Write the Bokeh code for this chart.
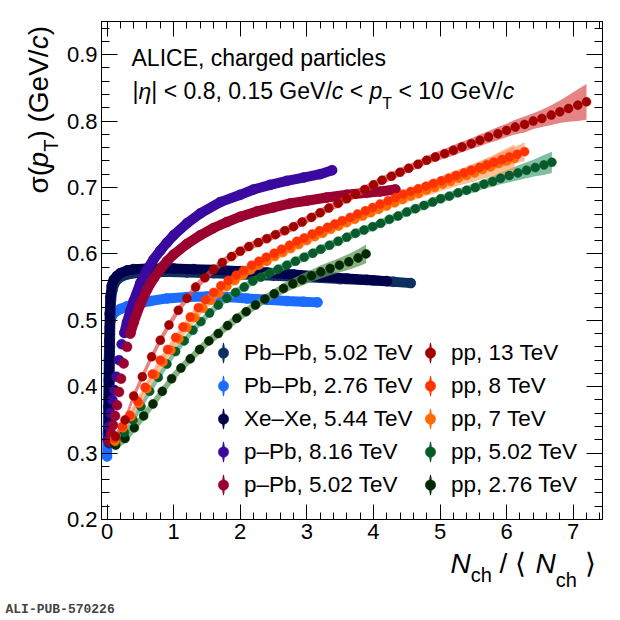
import numpy as np
from bokeh.plotting import figure
from bokeh.layouts import row, column
from bokeh.models import (Range1d, LinearAxis, FixedTicker, Label, Legend,
                          LegendItem, ColumnDataSource)
from bokeh.embed import file_html
from bokeh.resources import INLINE

# ---------------- data ----------------
x_ticks = [0, 1, 2, 3, 4, 5, 6, 7]
y_ticks = [0.2, 0.3, 0.4, 0.5, 0.6, 0.7, 0.8, 0.9]

# Pb-Pb 5.02 TeV
pbpb502_x = [0.03, 0.035, 0.04, 0.045, 0.05, 0.06, 0.08, 0.11, 0.15, 0.20, 0.30, 0.50, 0.80, 1.20,
             1.60, 2.00, 2.50, 3.00, 3.50, 4.00, 4.30, 4.56]
pbpb502_y = [0.315, 0.36, 0.41, 0.46, 0.50, 0.53, 0.545, 0.555, 0.561, 0.565, 0.569, 0.572, 0.573, 0.572,
             0.571, 0.569, 0.567, 0.565, 0.562, 0.560, 0.558, 0.556]
# Pb-Pb 2.76 TeV
pbpb276_x = [0.00, 0.01, 0.015, 0.02, 0.025, 0.03, 0.04, 0.06, 0.09, 0.13, 0.20, 0.30, 0.45, 0.65,
             0.90, 1.20, 1.50, 1.80, 2.10, 2.40, 2.70, 2.95, 3.16]
pbpb276_y = [0.295, 0.33, 0.37, 0.41, 0.44, 0.465, 0.49, 0.503, 0.510, 0.513, 0.517, 0.521, 0.525, 0.529,
             0.533, 0.535, 0.536, 0.535, 0.533, 0.531, 0.529, 0.528, 0.527]
# Xe-Xe 5.44 TeV
xexe_x = [0.02, 0.025, 0.03, 0.035, 0.04, 0.05, 0.07, 0.10, 0.15, 0.20, 0.30, 0.40, 0.60, 0.80,
          1.00, 1.30, 1.60, 2.00, 2.40, 2.80, 3.20, 3.60, 3.90, 4.20]
xexe_y = [0.32, 0.37, 0.42, 0.47, 0.51, 0.535, 0.552, 0.561, 0.567, 0.571, 0.575, 0.577, 0.578, 0.578,
          0.578, 0.577, 0.576, 0.574, 0.572, 0.569, 0.566, 0.563, 0.561, 0.559]
# p-Pb 8.16 TeV
ppb816_x = [0.01, 0.03, 0.05, 0.08, 0.11, 0.14, 0.18, 0.22, 0.26, 0.30, 0.35, 0.40, 0.50, 0.60,
            0.70, 0.80, 0.90, 1.00, 1.20, 1.40, 1.70, 2.00, 2.20, 2.45, 2.70, 2.95, 3.20, 3.38]
ppb816_y = [0.32, 0.34, 0.36, 0.38, 0.395, 0.415, 0.44, 0.464, 0.481, 0.497, 0.514, 0.529, 0.556, 0.576,
            0.592, 0.605, 0.617, 0.628, 0.646, 0.661, 0.678, 0.689, 0.697, 0.704, 0.710, 0.715, 0.720, 0.726]
# p-Pb 5.02 TeV
ppb502_x = [0.03, 0.06, 0.09, 0.12, 0.15, 0.18, 0.21, 0.25, 0.30, 0.35, 0.40, 0.50, 0.60, 0.70,
            0.80, 0.90, 1.00, 1.20, 1.40, 1.60, 1.80, 2.00, 2.25, 2.50, 2.75, 3.00, 3.30, 3.60,
            3.90, 4.10, 4.33]
ppb502_y = [0.318, 0.330, 0.342, 0.356, 0.372, 0.392, 0.412, 0.435, 0.460, 0.480, 0.497, 0.524, 0.546, 0.563,
            0.577, 0.589, 0.599, 0.615, 0.628, 0.639, 0.648, 0.656, 0.664, 0.670, 0.676, 0.680, 0.685, 0.689,
            0.692, 0.694, 0.697]

# pp 13 TeV
pp13_x = [0.13, 0.27, 0.40, 0.53, 0.67, 0.80, 0.93, 1.07, 1.20, 1.33, 1.47, 1.60, 1.73, 1.87,
          2.00, 2.13, 2.27, 2.40, 2.53, 2.67, 2.80, 2.93, 3.07, 3.20, 3.33, 3.47, 3.60, 3.73,
          3.87, 4.00, 4.13, 4.27, 4.40, 4.53, 4.67, 4.80, 4.93, 5.07, 5.20, 5.33, 5.47, 5.60,
          5.73, 5.87, 6.00, 6.13, 6.27, 6.40, 6.53, 6.67, 6.80, 6.93, 7.07, 7.20]
pp13_y = [0.325, 0.350, 0.386, 0.415, 0.445, 0.470, 0.493, 0.515, 0.533, 0.550, 0.564, 0.576, 0.587, 0.596,
          0.604, 0.611, 0.617, 0.623, 0.629, 0.635, 0.641, 0.648, 0.655, 0.662, 0.669, 0.676, 0.683, 0.690,
          0.697, 0.704, 0.711, 0.717, 0.723, 0.729, 0.735, 0.741, 0.746, 0.751, 0.756, 0.761, 0.766, 0.771,
          0.776, 0.781, 0.786, 0.791, 0.795, 0.800, 0.804, 0.809, 0.814, 0.819, 0.824, 0.829]
pp13_sys = [0.006] * 36 + [0.007, 0.007, 0.008, 0.008, 0.008, 0.009, 0.009, 0.010, 0.010, 0.011, 0.012,
                           0.012, 0.013, 0.015, 0.017, 0.020, 0.024, 0.027]
# pp 8 TeV
pp8_x = [0.11, 0.23, 0.34, 0.46, 0.57, 0.68, 0.80, 0.91, 1.03, 1.14, 1.25, 1.37, 1.48, 1.60,
         1.71, 1.82, 1.94, 2.05, 2.17, 2.28, 2.39, 2.51, 2.62, 2.74, 2.85, 2.96, 3.08, 3.19,
         3.31, 3.42, 3.53, 3.65, 3.76, 3.88, 3.99, 4.10, 4.22, 4.33, 4.45, 4.56, 4.67, 4.79,
         4.90, 5.02, 5.13, 5.24, 5.36, 5.47, 5.59, 5.70, 5.81, 5.93, 6.04, 6.16, 6.27]
pp8_y = [0.322, 0.340, 0.357, 0.378, 0.399, 0.419, 0.440, 0.456, 0.474, 0.490, 0.505, 0.519, 0.531, 0.542,
         0.552, 0.560, 0.568, 0.575, 0.583, 0.589, 0.595, 0.601, 0.607, 0.613, 0.619, 0.624, 0.630, 0.635,
         0.640, 0.645, 0.650, 0.655, 0.660, 0.665, 0.670, 0.675, 0.680, 0.685, 0.690, 0.694, 0.698, 0.702,
         0.706, 0.710, 0.714, 0.718, 0.722, 0.726, 0.730, 0.734, 0.738, 0.742, 0.746, 0.750, 0.754]
pp8_sys = [0.005] * 40 + [0.006, 0.006, 0.007, 0.007, 0.008, 0.008, 0.008, 0.009, 0.009, 0.010, 0.010,
                          0.011, 0.012, 0.013, 0.014]
# pp 7 TeV
pp7_x = [0.12, 0.24, 0.36, 0.48, 0.60, 0.72, 0.84, 0.96, 1.08, 1.20, 1.32, 1.44, 1.56, 1.68,
         1.80, 1.92, 2.04, 2.16, 2.28, 2.40, 2.52, 2.64, 2.76, 2.88, 3.00, 3.12, 3.24, 3.36,
         3.48, 3.60, 3.72, 3.84, 3.96, 4.08, 4.20, 4.32, 4.44, 4.56, 4.68, 4.80, 4.92, 5.04,
         5.16, 5.28, 5.40, 5.52, 5.64, 5.76, 5.88, 6.00, 6.12]
pp7_y = [0.318, 0.338, 0.355, 0.375, 0.397, 0.418, 0.437, 0.455, 0.472, 0.489, 0.504, 0.518, 0.530, 0.541,
         0.551, 0.560, 0.568, 0.576, 0.583, 0.589, 0.596, 0.602, 0.608, 0.614, 0.620, 0.626, 0.631, 0.637,
         0.642, 0.647, 0.652, 0.657, 0.662, 0.667, 0.672, 0.677, 0.682, 0.687, 0.691, 0.696, 0.700, 0.705,
         0.709, 0.714, 0.718, 0.722, 0.727, 0.731, 0.736, 0.740, 0.744]
pp7_sys = [0.006] * 36 + [0.007, 0.007, 0.008, 0.008, 0.009, 0.009, 0.010, 0.011, 0.012, 0.013, 0.014,
                          0.015, 0.017, 0.019, 0.021]
# pp 5.02 TeV
pp502_x = [0.13, 0.26, 0.39, 0.51, 0.64, 0.77, 0.90, 1.03, 1.16, 1.29, 1.41, 1.54, 1.67, 1.80,
           1.93, 2.06, 2.19, 2.31, 2.44, 2.57, 2.70, 2.83, 2.96, 3.09, 3.21, 3.34, 3.47, 3.60,
           3.73, 3.86, 3.99, 4.11, 4.24, 4.37, 4.50, 4.63, 4.76, 4.89, 5.01, 5.14, 5.27, 5.40,
           5.53, 5.66, 5.79, 5.91, 6.04, 6.17, 6.30, 6.43, 6.56, 6.68]
pp502_y = [0.317, 0.331, 0.350, 0.370, 0.393, 0.414, 0.434, 0.453, 0.469, 0.485, 0.498, 0.511, 0.523, 0.533,
           0.542, 0.550, 0.559, 0.565, 0.571, 0.577, 0.583, 0.589, 0.595, 0.601, 0.607, 0.613, 0.619, 0.625,
           0.631, 0.636, 0.641, 0.646, 0.652, 0.657, 0.663, 0.668, 0.673, 0.678, 0.683, 0.687, 0.692, 0.696,
           0.700, 0.705, 0.709, 0.714, 0.718, 0.722, 0.726, 0.730, 0.734, 0.738]
pp502_sys = [0.006] * 42 + [0.007, 0.007, 0.008, 0.009, 0.010, 0.011, 0.012, 0.013, 0.015, 0.016]
# pp 2.76 TeV
pp276_x = [0.13, 0.27, 0.41, 0.55, 0.69, 0.83, 0.97, 1.11, 1.25, 1.39, 1.53, 1.67, 1.81, 1.95,
           2.09, 2.23, 2.37, 2.51, 2.65, 2.79, 2.93, 3.07, 3.21, 3.35, 3.49, 3.63, 3.77, 3.89]
pp276_y = [0.312, 0.322, 0.338, 0.356, 0.374, 0.393, 0.412, 0.428, 0.442, 0.456, 0.469, 0.480, 0.492, 0.503,
           0.513, 0.523, 0.532, 0.540, 0.548, 0.555, 0.561, 0.567, 0.573, 0.578, 0.583, 0.588, 0.594, 0.600]
pp276_sys = [0.007] * 18 + [0.008, 0.008, 0.009, 0.009, 0.010, 0.010, 0.011, 0.012, 0.013, 0.014]

for a, b in [(pbpb502_x, pbpb502_y), (pbpb276_x, pbpb276_y), (xexe_x, xexe_y), (ppb816_x, ppb816_y),
             (ppb502_x, ppb502_y), (pp13_x, pp13_y), (pp13_x, pp13_sys), (pp8_x, pp8_y), (pp8_x, pp8_sys),
             (pp7_x, pp7_y), (pp7_x, pp7_sys), (pp502_x, pp502_y), (pp502_x, pp502_sys),
             (pp276_x, pp276_y), (pp276_x, pp276_sys)]:
    assert len(a) == len(b), (len(a), len(b))

FONT = "Liberation Sans"

# ---------------- layout geometry ----------------
LEFT_W = 60          # strip holding the y-axis title
MAIN_W = 552
FRAME_TOP = 21
FRAME_BOTTOM = 519   # frame of the main plot (also the aligned frame of the left strip)
MAIN_H = 548
BOT_H = 69           # strip holding the x-axis title and the figure id

p = figure(width=MAIN_W, height=MAIN_H, x_range=Range1d(-0.083, 7.44), y_range=Range1d(0.2, 0.95),
           output_backend="svg", toolbar_location=None, x_axis_type=None, y_axis_type=None,
           min_border_left=41, min_border_right=10, min_border_top=FRAME_TOP,
           min_border_bottom=MAIN_H - FRAME_BOTTOM)
p.outline_line_color = "black"
p.background_fill_color = "white"
p.border_fill_color = "white"

x_minor = [round(0.2 * i, 1) for i in range(0, 38)]
y_minor = [round(0.2 + 0.02 * i, 2) for i in range(0, 38)]


def mk_axis(ticks, minor, tin, mtin, labels, standoff):
    ax = LinearAxis(ticker=FixedTicker(ticks=ticks, minor_ticks=minor),
                    axis_line_color="black", axis_line_width=1,
                    major_tick_line_color="black", minor_tick_line_color="black",
                    major_tick_in=tin, major_tick_out=0, minor_tick_in=mtin, minor_tick_out=0,
                    major_label_standoff=standoff)
    if labels:
        ax.major_label_text_font = FONT
        ax.major_label_text_font_size = "22px"
        ax.major_label_text_color = "black"
    else:
        ax.major_label_text_font_size = "0px"
        ax.major_label_text_alpha = 0
    return ax


p.add_layout(mk_axis(x_ticks, x_minor, 15, 7, True, 4), "below")
p.add_layout(mk_axis(x_ticks, x_minor, 15, 7, False, 0), "above")
p.add_layout(mk_axis(y_ticks, y_minor, 16, 8, True, 4), "left")
p.add_layout(mk_axis(y_ticks, y_minor, 16, 8, False, 0), "right")


def series(x, y, color, heavy=False, size=9, band_from=0):
    src = ColumnDataSource(data=dict(x=x, y=y))
    if heavy:
        # the dense points merge into a continuous band once the curve flattens
        p.line(x[band_from:], y[band_from:], line_color=color, line_width=10,
               line_cap="round", line_join="round")
    e = p.ellipse("x", "y", width=1.2, height=9, width_units="screen", height_units="screen",
                  source=src, fill_color=color, line_color=None)
    s = p.scatter("x", "y", source=src, size=size, marker="circle",
                  fill_color=color, line_color=color, line_width=0.5)
    return [e, s]


def band(x, y, err, color, alpha):
    lo = [a - b for a, b in zip(y, err)]
    hi = [a + b for a, b in zip(y, err)]
    p.varea(x=x, y1=lo, y2=hi, fill_color=color, fill_alpha=alpha)


C = dict(pbpb502="#0f2f60", pbpb276="#1b6cff", xexe="#00004d", ppb816="#3a0aa0", ppb502="#9a0030",
         pp13="#a00000", pp8="#ff3300", pp7="#ff6a00", pp502="#075a2a", pp276="#042804")

r_pbpb276 = series(pbpb276_x, pbpb276_y, C["pbpb276"], heavy=True, size=10)
r_pbpb502 = series(pbpb502_x, pbpb502_y, C["pbpb502"], heavy=True, size=10)
r_xexe = series(xexe_x, xexe_y, C["xexe"], heavy=True, size=10)
r_ppb816 = series(ppb816_x, ppb816_y, C["ppb816"], heavy=True, size=10, band_from=8)
r_ppb502 = series(ppb502_x, ppb502_y, C["ppb502"], heavy=True, size=10, band_from=9)

band(pp276_x, pp276_y, pp276_sys, "#5d9a55", 0.75)
band(pp502_x, pp502_y, pp502_sys, "#4aa37a", 0.7)
band(pp7_x, pp7_y, pp7_sys, "#ffa060", 0.65)
band(pp8_x, pp8_y, pp8_sys, "#ff7f50", 0.55)
band(pp13_x, pp13_y, pp13_sys, "#d85050", 0.7)

r_pp276 = series(pp276_x, pp276_y, C["pp276"])
r_pp502 = series(pp502_x, pp502_y, C["pp502"])
r_pp7 = series(pp7_x, pp7_y, C["pp7"])
r_pp8 = series(pp8_x, pp8_y, C["pp8"])
r_pp13 = series(pp13_x, pp13_y, C["pp13"])


def mk_legend(items, loc):
    lg = Legend(items=[LegendItem(label=l, renderers=r) for l, r in items], location=loc,
                orientation="vertical", glyph_width=26, glyph_height=33, label_height=33,
                spacing=0, padding=0, margin=0, label_standoff=8,
                label_text_font=FONT, label_text_font_size="22.5px", label_text_color="black",
                border_line_alpha=0, background_fill_alpha=0)
    p.add_layout(lg)


mk_legend([("Pb\u2013Pb, 5.02 TeV", r_pbpb502), ("Pb\u2013Pb, 2.76 TeV", r_pbpb276),
           ("Xe\u2013Xe, 5.44 TeV", r_xexe), ("p\u2013Pb, 8.16 TeV", r_ppb816),
           ("p\u2013Pb, 5.02 TeV", r_ppb502)], (109, 18))
mk_legend([("pp, 13 TeV", r_pp13), ("pp, 8 TeV", r_pp8), ("pp, 7 TeV", r_pp7),
           ("pp, 5.02 TeV", r_pp502), ("pp, 2.76 TeV", r_pp276)], (316, 18))

# ---------------- texts ----------------
CW = {' ': 278, '|': 260, '<': 584, '>': 584, '.': 278, ',': 278, '/': 278, '(': 333, ')': 333,
      '-': 333, 'A': 667, 'C': 722, 'E': 667, 'G': 778, 'I': 278, 'L': 556, 'N': 722, 'T': 611,
      'V': 667, 'a': 556, 'c': 500, 'd': 556, 'e': 556, 'g': 556, 'h': 556, 'i': 222, 'l': 222,
      'p': 556, 'r': 333, 's': 500, 't': 278, '\u03b7': 556, '\u03c3': 600, '\u27e8': 450,
      '\u27e9': 450}


def tw(s, size):
    return sum(CW.get(ch, 556) for ch in s) * size / 1000.0


def pieces(fig, parts, sx0, sy0, vertical=False):
    """Place a run of differently styled text pieces; (sx0, sy0) is the middle of the run's start."""
    pos = 0.0
    for txt, size, style, shift in parts:
        stripped = txt.lstrip(" ")
        lead = tw(txt[:len(txt) - len(stripped)], size)
        body = stripped.rstrip(" ")
        if body:
            if vertical:
                lab = Label(x=sx0 + shift, y=sy0 + pos + lead, angle=np.pi / 2)
            else:
                lab = Label(x=sx0 + pos + lead, y=sy0 - shift)
            lab.x_units = "screen"
            lab.y_units = "screen"
            lab.text = body
            lab.text_font = FONT
            lab.text_font_size = "%gpx" % size
            lab.text_font_style = style
            lab.text_color = "black"
            lab.text_baseline = "middle"
            lab.text_align = "left"
            fig.add_layout(lab)
        pos += tw(txt, size)


# header inside the main frame (frame bottom-left = origin, y upwards)
pieces(p, [("ALICE, charged particles", 23, "normal", 0)], 30, FRAME_BOTTOM - 57)
pieces(p, [("|", 23, "normal", 0), ("\u03b7", 23, "italic", 0), ("| < 0.8, 0.15 GeV/", 23, "normal", 0),
           ("c", 23, "italic", 0), (" < ", 23, "normal", 0), ("p", 23, "italic", 0),
           ("T", 16, "normal", 12), (" < 10 GeV/", 23, "normal", 0), ("c", 23, "italic", 0)],
       31, FRAME_BOTTOM - 90.5)


def strip(w, h):
    f = figure(width=w, height=h, x_range=Range1d(0, 1), y_range=Range1d(0, 1),
               output_backend="svg", toolbar_location=None, x_axis_type=None, y_axis_type=None,
               min_border=0, min_border_left=0, min_border_right=0, min_border_top=0,
               min_border_bottom=0)
    f.outline_line_color = None
    f.background_fill_color = "white"
    f.border_fill_color = "white"
    return f


left = strip(LEFT_W, MAIN_H)
bottom = strip(LEFT_W + MAIN_W, BOT_H)

# y-axis title (rotated) in the left strip, whose frame is aligned with the main frame
pieces(left, [("\u03c3(", 28, "normal", 0), ("p", 28, "italic", 0), ("T", 20, "normal", 12),
              (")", 28, "normal", 0), (" (GeV/", 28, "normal", 0), ("c", 28, "italic", 0),
              (")", 28, "normal", 0)], 38, FRAME_BOTTOM - 193, vertical=True)

# x-axis title in the bottom strip (strip spans y = MAIN_H .. MAIN_H + BOT_H)
STRIP_BOTTOM = MAIN_H + BOT_H
pieces(bottom, [("N", 28, "italic", 0), ("ch", 20, "normal", 11), (" / \u27e8 ", 28, "normal", 0),
                ("N", 28, "italic", 0), ("ch", 20, "normal", 16), (" \u27e9", 28, "normal", 0)],
       450, STRIP_BOTTOM - 563)

ali = Label(x=5, y=STRIP_BOTTOM - 609, x_units="screen", y_units="screen", text="ALI-PUB-570226",
            text_font="Liberation Mono", text_font_size="13px", text_font_style="bold",
            text_color="#444444", text_baseline="middle")
bottom.add_layout(ali)

layout = column(row(left, p), bottom)
open("out.html", "w").write(file_html(layout, INLINE))
